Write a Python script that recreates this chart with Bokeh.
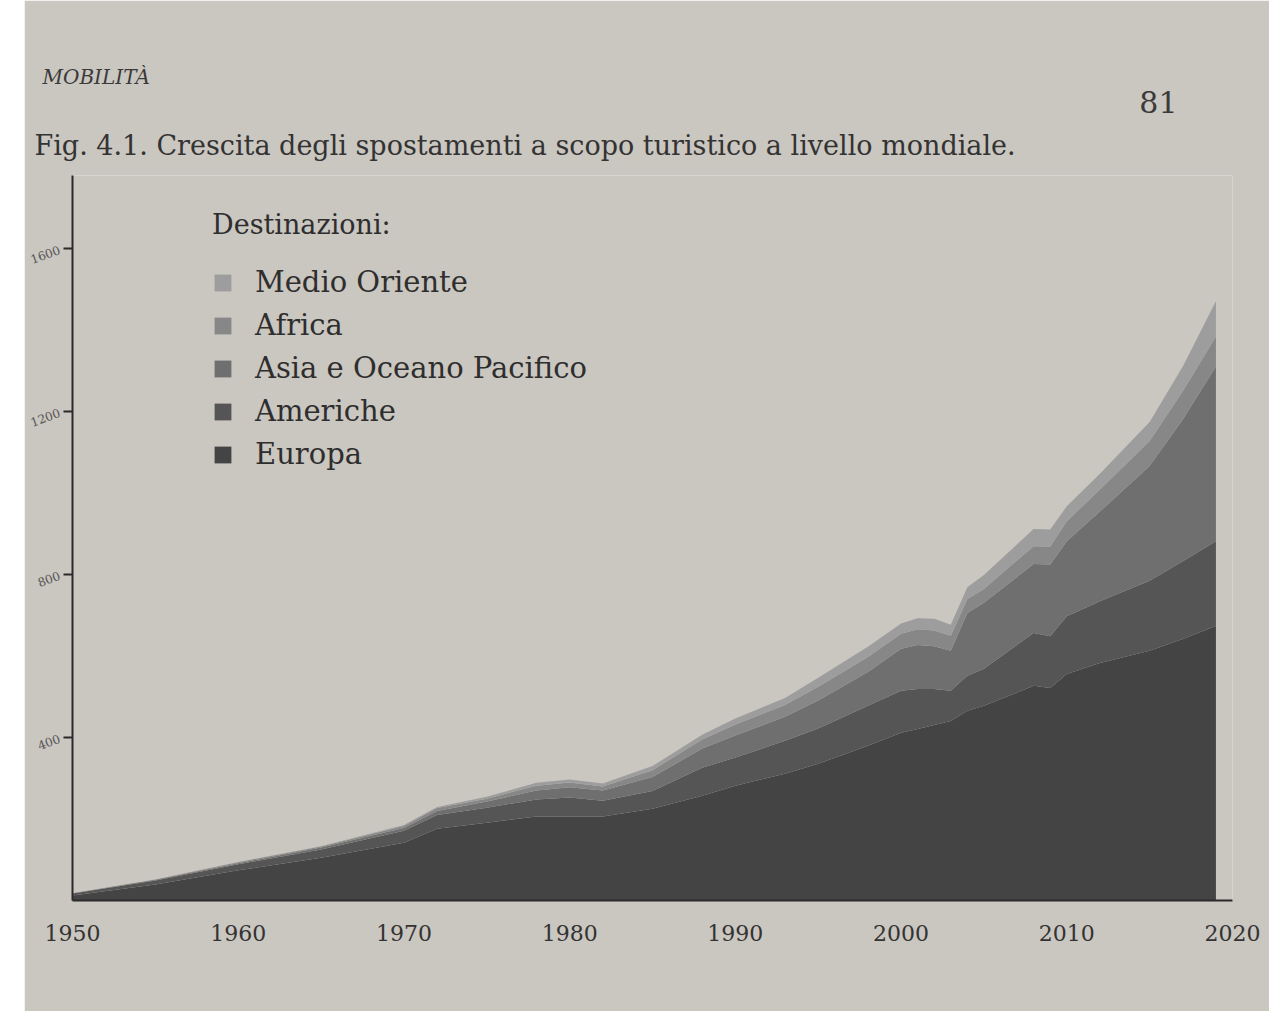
from bokeh.plotting import figure
from bokeh.models import (ColumnDataSource, FixedTicker, Legend, LegendItem, Title, Spacer)
from bokeh.layouts import row
from bokeh.embed import file_html
from bokeh.resources import INLINE

years = [1950, 1955, 1960, 1965, 1970, 1972, 1975, 1978, 1980, 1982, 1985, 1988, 1990,
         1993, 1995, 1998, 2000, 2001, 2002, 2003, 2004, 2005, 2008, 2009, 2010, 2012,
         2015, 2017, 2019]
europa = [12, 39, 74, 105, 142, 176, 191, 206, 206, 206, 225, 257, 282,
          311, 336, 380, 412, 421, 431, 441, 466, 478, 527, 522, 556, 583,
          613, 642, 674]
americhe = [5, 10, 15, 20, 29, 34, 37, 42, 47, 39, 44, 69, 69,
            81, 86, 98, 103, 98, 88, 74, 86, 91, 130, 127, 142, 152,
            172, 191, 208]
asia_pacifico = [0.5, 2, 2.5, 5, 7, 10, 15, 22, 25, 25, 34, 47, 54,
                 59, 69, 83, 103, 108, 105, 98, 154, 162, 169, 176, 184, 220,
                 282, 348, 429]
africa = [0.3, 0.5, 2.5, 2.5, 5, 7, 7, 12, 12, 10, 17, 22, 27,
          29, 34, 37, 37, 39, 39, 37, 34, 34, 44, 44, 49, 54,
          61, 69, 74]
medio_oriente = [0.2, 0.3, 0.5, 0.5, 2.5, 2.5, 5, 7, 7, 7, 10, 12, 15,
                 17, 22, 25, 25, 27, 29, 27, 29, 34, 42, 42, 37, 39,
                 47, 61, 86]

series_names = ["Europa", "Americhe", "Asia e Oceano Pacifico", "Africa", "Medio Oriente"]
series_keys = ["europa", "americhe", "asia", "africa", "medio"]
series_colors = ["#444444", "#555555", "#6f6f6f", "#878787", "#9d9d9d"]
x_ticks = [1950, 1960, 1970, 1980, 1990, 2000, 2010, 2020]
y_ticks = [400, 800, 1200, 1600]

source = ColumnDataSource(dict(year=years, europa=europa, americhe=americhe,
                               asia=asia_pacifico, africa=africa, medio=medio_oriente))

paper = "#cac6c0"
serif = "DejaVu Serif"

p = figure(width=1245, height=1011, output_backend="svg", toolbar_location=None,
           x_range=(1950, 2020.0), y_range=(0, 1780),
           min_border_left=48, min_border_right=37, min_border_top=175, min_border_bottom=111)
p.background_fill_color = paper
p.border_fill_color = paper
p.outline_line_color = None
p.xgrid.grid_line_color = None
p.ygrid.grid_line_color = None

renderers = p.varea_stack(stackers=series_keys, x="year", color=series_colors, source=source)

items = [LegendItem(label=n, renderers=[r]) for n, r in zip(series_names, renderers)]
legend = Legend(items=list(reversed(items)), location=(140, 428))
legend.title = "Destinazioni:"
legend.title_text_font = serif
legend.title_text_font_style = "normal"
legend.title_text_font_size = "27px"
legend.title_text_color = "#2e2e2e"
legend.title_standoff = 24
legend.label_text_font = serif
legend.label_text_font_size = "29px"
legend.label_text_color = "#2e2e2e"
legend.glyph_width = 21
legend.glyph_height = 21
legend.label_height = 36
legend.spacing = 7
legend.label_standoff = 22
legend.background_fill_alpha = 0
legend.border_line_color = None
p.add_layout(legend, "center")

p.xaxis.ticker = FixedTicker(ticks=x_ticks)
p.xaxis.axis_line_width = 2
p.xaxis.axis_line_color = "#2a2a2a"
p.xaxis.major_tick_line_color = None
p.xaxis.minor_tick_line_color = None
p.xaxis.major_label_text_font = serif
p.xaxis.major_label_text_font_size = "22px"
p.xaxis.major_label_text_color = "#333333"
p.xaxis.major_label_standoff = 18

p.yaxis.ticker = FixedTicker(ticks=y_ticks)
p.yaxis.axis_line_width = 2
p.yaxis.axis_line_color = "#2a2a2a"
p.yaxis.major_tick_line_color = "#2a2a2a"
p.yaxis.major_tick_line_width = 2
p.yaxis.major_tick_out = 9
p.yaxis.major_tick_in = 0
p.yaxis.minor_tick_line_color = None
p.yaxis.major_label_text_font = serif
p.yaxis.major_label_text_font_size = "12px"
p.yaxis.major_label_text_color = "#555555"
p.yaxis.major_label_orientation = 0.35
p.yaxis.major_label_standoff = 4

caption = Title(text="Fig. 4.1. Crescita degli spostamenti a scopo turistico a livello mondiale.",
                align="left", offset=-38, standoff=30, text_font=serif,
                text_font_size="27px", text_font_style="normal", text_color="#333333")
page_num = Title(text="81", align="right", offset=55, standoff=0, text_font=serif,
                 text_font_size="30px", text_font_style="normal", text_color="#3a3a3a")
section = Title(text="MOBILITÀ", align="left", offset=-30, standoff=0, text_font=serif,
                text_font_size="20px", text_font_style="italic", text_color="#3a3a3a")
p.add_layout(caption, "above")
p.add_layout(page_num, "above")
p.add_layout(section, "above")

layout = row(Spacer(width=24, height=1011), p)
open("out.html", "w").write(file_html(layout, INLINE))
